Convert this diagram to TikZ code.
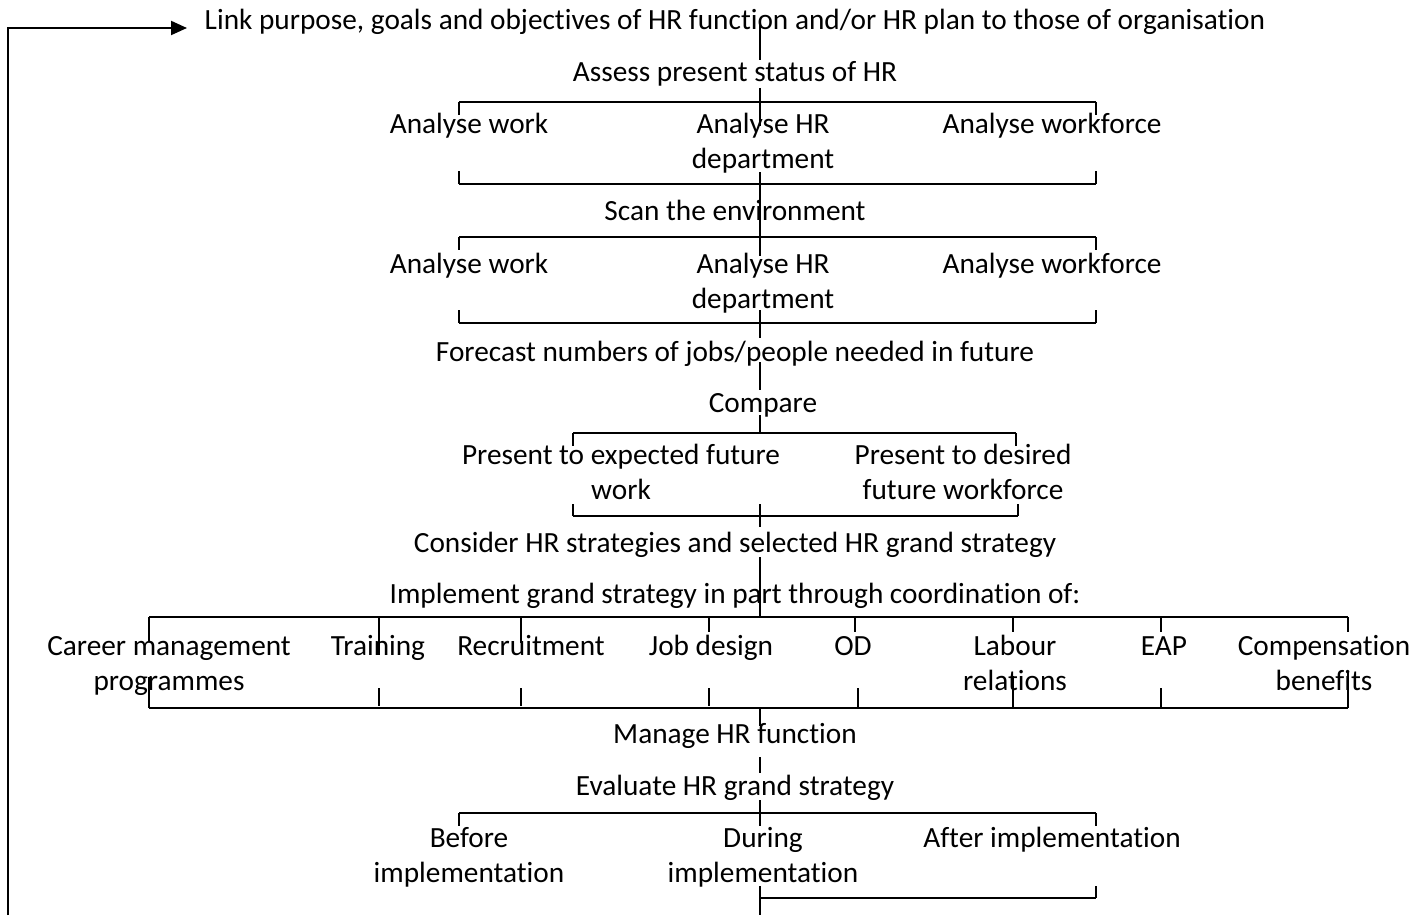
\documentclass[tikz,border=0pt]{standalone}
\usepackage{fontspec}
\setmainfont{Carlito}[RawFeature={-liga;-clig;-dlig;-calt}]
\usetikzlibrary{arrows.meta}
\begin{document}
\begin{tikzpicture}[x=1pt,y=-1pt,
  lbl/.style={inner sep=0pt, align=center, font=\fontsize{29.3}{35.5}\selectfont},
  bar/.style={line width=2.2pt},
  tick/.style={line width=1.4pt},
  vline/.style={line width=1.4pt},
  feedback/.style={line width=2pt, -{Triangle[length=16pt,width=14pt]}}
  ]
\useasboundingbox (0,0) rectangle (1415,915);

% ---------- text nodes ----------
\node[lbl] (link) at (735,22.9) {\strut Link purpose, goals and objectives of HR function and/or HR plan to those of organisation};
\node[lbl] (assess) at (735,74.9) {\strut Assess present status of HR};
\node[lbl] (r1a) at (469,125.9) {\strut Analyse work};
\node[lbl] (r1b) at (763,143.65) {\strut Analyse HR\\\strut department};
\node[lbl] (r1c) at (1052,125.9) {\strut Analyse workforce};
\node[lbl] (scan) at (735,212.9) {\strut Scan the environment};
\node[lbl] (r2a) at (469,265.9) {\strut Analyse work};
\node[lbl] (r2b) at (763,283.65) {\strut Analyse HR\\\strut department};
\node[lbl] (r2c) at (1052,265.9) {\strut Analyse workforce};
\node[lbl] (forecast) at (735,353.9) {\strut Forecast numbers of jobs/people needed in future};
\node[lbl] (compare) at (763,404.9) {\strut Compare};
\node[lbl] (c1) at (621,474.65) {\strut Present to expected future\\\strut work};
\node[lbl] (c2) at (963,474.65) {\strut Present to desired\\\strut future workforce};
\node[lbl] (consider) at (735,544.9) {\strut Consider HR strategies and selected HR grand strategy};
\node[lbl] (implement) at (735,595.9) {\strut Implement grand strategy in part through coordination of:};
\node[lbl] (i1) at (169,665.65) {\strut Career management\\\strut programmes};
\node[lbl] (i2) at (378,647.9) {\strut Training};
\node[lbl] (i3) at (531,647.9) {\strut Recruitment};
\node[lbl] (i4) at (711,647.9) {\strut Job design};
\node[lbl] (i5) at (853,647.9) {\strut OD};
\node[lbl] (i6) at (1015,665.65) {\strut Labour\\\strut relations};
\node[lbl] (i7) at (1164,647.9) {\strut EAP};
\node[lbl] (i8) at (1324,665.65) {\strut Compensation\\\strut benefits};
\node[lbl] (manage) at (735,735.9) {\strut Manage HR function};
\node[lbl] (evaluate) at (735,787.9) {\strut Evaluate HR grand strategy};
\node[lbl] (e1) at (469,857.65) {\strut Before\\\strut implementation};
\node[lbl] (e2) at (763,857.65) {\strut During\\\strut implementation};
\node[lbl] (e3) at (1052,839.9) {\strut After implementation};

% ---------- feedback arrow ----------
\coordinate (fbB) at (8,915);
\coordinate (fbC) at (8,28);
\coordinate (fbT) at (187,28);
\draw[feedback] (fbB) -- (fbC) -- (fbT);

% ---------- central spine segments ----------
\coordinate (s1a) at (760,24);  \coordinate (s1b) at (760,60);
\coordinate (s2a) at (760,88);  \coordinate (s2b) at (760,126);
\coordinate (s3a) at (760,172); \coordinate (s3b) at (760,256);
\coordinate (s4a) at (760,310); \coordinate (s4b) at (760,338);
\coordinate (s5a) at (760,362); \coordinate (s5b) at (760,390);
\coordinate (s6a) at (760,415); \coordinate (s6b) at (760,433);
\coordinate (s7a) at (760,504); \coordinate (s7b) at (760,527);
\coordinate (s8a) at (760,557); \coordinate (s8b) at (760,617);
\coordinate (s9a) at (760,708); \coordinate (s9b) at (760,726);
\coordinate (s10a) at (760,757); \coordinate (s10b) at (760,773);
\coordinate (s11a) at (760,800); \coordinate (s11b) at (760,826);
\coordinate (s12a) at (760,886); \coordinate (s12b) at (760,915);
\foreach \s in {1,...,12} \draw[vline] (s\s a) -- (s\s b);

% ---------- bracket bars ----------
% Assess -> analyse row 1
\draw[bar] (459,102) -- (1096,102);
\draw[tick] (459,102) -- (459,115) (1096,102) -- (1096,115);
\draw[bar] (459,184) -- (1096,184);
\draw[tick] (459,184) -- (459,171) (1096,184) -- (1096,171);
% Scan -> analyse row 2
\draw[bar] (459,237) -- (1096,237);
\draw[tick] (459,237) -- (459,250) (1096,237) -- (1096,250);
\draw[bar] (459,323) -- (1096,323);
\draw[tick] (459,323) -- (459,310) (1096,323) -- (1096,310);
% Compare
\draw[bar] (573,433) -- (1016,433);
\draw[tick] (573,433) -- (573,446) (1016,433) -- (1016,446);
\draw[bar] (573,516) -- (1018,516);
\draw[tick] (573,516) -- (573,504) (1018,516) -- (1018,504);
% Implementation
\draw[bar] (149,617) -- (1348,617);
\draw[tick] (149,617) -- (149,641)
            (379,617) -- (379,655)
            (521,617) -- (521,643)
            (709,617) -- (709,632)
            (855,617) -- (855,632)
            (1013,617) -- (1013,632)
            (1161,617) -- (1161,632)
            (1348,617) -- (1348,632);
\draw[bar] (149,708) -- (1348,708);
\draw[tick] (149,708) -- (149,677)
            (379,688) -- (379,706)
            (521,688) -- (521,706)
            (709,688) -- (709,706)
            (858,688) -- (858,708)
            (1013,676) -- (1013,708)
            (1161,688) -- (1161,708)
            (1348,672) -- (1348,708);
% Evaluate
\draw[bar] (459,813) -- (1096,813);
\draw[tick] (459,813) -- (459,826) (1096,813) -- (1096,826);
\draw[bar] (760,898) -- (1096,898);
\draw[tick] (1096,898) -- (1096,886);
\end{tikzpicture}
\end{document}
